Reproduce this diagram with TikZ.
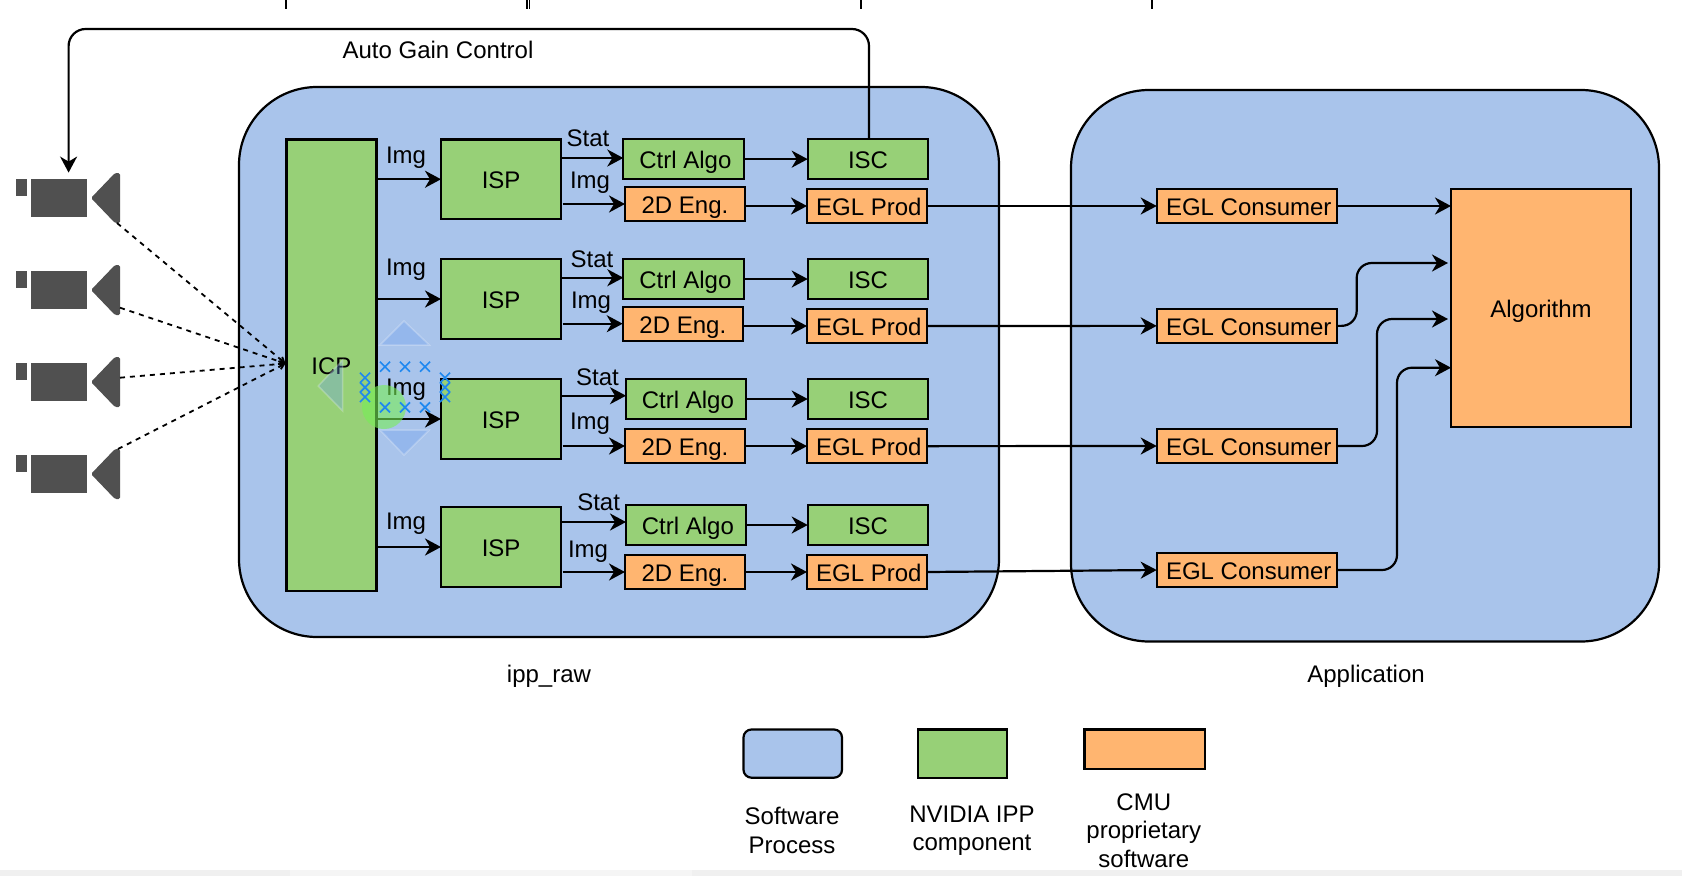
\documentclass[tikz,border=0pt]{standalone}
\usepackage{fontspec}
\setmainfont{Liberation Sans}
\usetikzlibrary{arrows.meta,calc}
\definecolor{procblue}{HTML}{A9C4EB}
\definecolor{ippgreen}{HTML}{97D077}
\definecolor{cmuorange}{HTML}{FFB570}
\definecolor{camgray}{HTML}{505050}
\definecolor{hoverblue}{HTML}{6B9EF0}
\definecolor{markblue}{HTML}{1E88F0}
\definecolor{hovergreen}{HTML}{77EE55}
\tikzset{
  base/.style={draw=black,line width=2.2pt,inner sep=0pt,outer sep=0pt,rectangle,
    font=\fontsize{24}{28}\selectfont,text height=22pt,text depth=3.6pt},
  greenbox/.style={base,fill=ippgreen},
  orangebox/.style={base,fill=cmuorange},
  procbox/.style={base,fill=procblue,rounded corners=78pt},
  legendproc/.style={base,fill=procblue,rounded corners=8pt},
  lbl/.style={font=\fontsize{24}{28}\selectfont,inner sep=0pt,text height=22pt,text depth=3.6pt},
  lbltwo/.style={font=\fontsize{24}{28.5}\selectfont,inner sep=0pt,align=center},
  conn/.style={line width=2.2pt,-{Stealth[length=16pt,width=17pt,inset=5pt]}},
  elbow/.style={conn,rounded corners=15pt},
  dashconn/.style={line width=1.8pt,dash pattern=on 5pt off 5pt,-{Straight Barb[length=5pt,width=6pt]}},
  hover/.style={fill=hoverblue,fill opacity=.33,draw=white,draw opacity=.25,line width=1.5pt},
  xmark/.style={draw=markblue,line width=1.7pt},
}
\newcommand{\bx}[7]{\node[#2,minimum width={#5pt-#3pt},minimum height={#6pt-#4pt}] (#1) at ({(#3+#5)/2},{(#4+#6)/2}) {#7};}
\newcommand{\nudge}{\hspace*{3.5pt}}
\begin{document}
\begin{tikzpicture}[x=1pt,y=-1pt]
\useasboundingbox (0,0) rectangle (1682,876);
% bottom strip
\fill[black!6] (0,870) rectangle (1682,876);
\fill[black!4] (290,870) rectangle (692,876);
% top ticks
\coordinate (t1a) at (286,0); \coordinate (t1b) at (286,9);
\coordinate (t2a) at (527,0); \coordinate (t2b) at (527,9);
\coordinate (t3a) at (529.5,0); \coordinate (t3b) at (529.5,9);
\coordinate (t4a) at (861,0); \coordinate (t4b) at (861,9);
\coordinate (t5a) at (1152,0); \coordinate (t5b) at (1152,9);
\draw[line width=1.2pt] (t1a)--(t1b) (t2a)--(t2b) (t3a)--(t3b) (t5a)--(t5b);
\draw[line width=2pt] (t4a)--(t4b);
% process containers
\bx{ipp}{procbox}{239}{87}{999}{637}{}
\bx{app}{procbox}{1071}{90}{1659}{641.5}{}
% cameras
\foreach \i/\d in {1/0,2/92,3/184,4/276}{
  \begin{scope}[yshift=-\d pt]
    \fill[camgray] (16,179) rectangle (26.7,195.7);
    \fill[camgray] (31,179) rectangle (87,217);
    \fill[camgray,rounded corners=1.5pt] (115,173) -- (120,173) -- (120,223) -- (115,223) -- (91,198) -- cycle;
  \end{scope}
}
\coordinate (cam1out) at (117,223);
\coordinate (cam2out) at (120,307.7);
\coordinate (cam3out) at (120,377.7);
\coordinate (cam4out) at (118,449);
\coordinate (icpin) at (285.5,363.5);
% ICP and ISPs
\bx{icp}{greenbox}{286.5}{139.5}{376.5}{591}{ICP}
\bx{isp1}{greenbox}{441}{139.5}{561.3}{219}{ISP}
\bx{isp2}{greenbox}{441}{259}{561.3}{339}{ISP}
\bx{isp3}{greenbox}{441}{379}{561.3}{459}{ISP}
\bx{isp4}{greenbox}{441}{506.7}{561.3}{587.3}{ISP}
% Ctrl Algo
\bx{ctrl1}{greenbox}{623.3}{139}{744}{179.3}{\nudge Ctrl Algo}
\bx{ctrl2}{greenbox}{623.3}{259}{744}{299}{\nudge Ctrl Algo}
\bx{ctrl3}{greenbox}{626}{379}{746.3}{419}{\nudge Ctrl Algo}
\bx{ctrl4}{greenbox}{626}{505}{746.3}{545}{\nudge Ctrl Algo}
% ISC
\bx{isc1}{greenbox}{807.7}{139}{928.3}{179.3}{ISC}
\bx{isc2}{greenbox}{807.7}{259}{928.3}{299}{ISC}
\bx{isc3}{greenbox}{807.7}{379}{928.3}{419}{ISC}
\bx{isc4}{greenbox}{807.7}{505}{928.3}{545}{ISC}
% 2D Eng.
\bx{eng1}{orangebox}{625}{187}{745}{221}{2D Eng.}
\bx{eng2}{orangebox}{622.7}{307}{743}{341}{2D Eng.}
\bx{eng3}{orangebox}{625}{429.3}{745}{463}{2D Eng.}
\bx{eng4}{orangebox}{625}{555}{745}{589}{2D Eng.}
% EGL Prod
\bx{prod1}{orangebox}{807}{189}{927.3}{223}{\nudge EGL Prod}
\bx{prod2}{orangebox}{807}{309}{927.3}{343}{\nudge EGL Prod}
\bx{prod3}{orangebox}{807}{429.3}{927.3}{463}{\nudge EGL Prod}
\bx{prod4}{orangebox}{807}{555}{927.3}{589}{\nudge EGL Prod}
% EGL Consumer
\bx{cons1}{orangebox}{1156.7}{189}{1337.3}{223}{\nudge EGL Consumer}
\bx{cons2}{orangebox}{1156.7}{308.7}{1337.3}{343}{\nudge EGL Consumer}
\bx{cons3}{orangebox}{1156.7}{428.7}{1337.3}{463.3}{\nudge EGL Consumer}
\bx{cons4}{orangebox}{1156.7}{553}{1337.3}{587}{\nudge EGL Consumer}
% Algorithm
\bx{alg}{orangebox}{1451}{189}{1631}{427}{Algorithm}
% dashed links
\foreach \i in {1,2,3,4}{ \draw[dashconn] (cam\i out) -- (icpin); }
% connectors in each row
\coordinate (stat1) at (561.3,158);
\coordinate (stat2) at (561.3,277.7);
\coordinate (stat3) at (561.3,395.7);
\coordinate (stat4) at (561.3,522);
\coordinate (imgo1) at (562.7,204);
\coordinate (imgo2) at (562.7,323.7);
\coordinate (imgo3) at (562.7,446);
\coordinate (imgo4) at (562.7,572);
\foreach \i in {1,2,3,4}{
  \draw[conn] (icp.east |- isp\i.west) -- (isp\i.west);
  \draw[conn] (stat\i) -- (stat\i -| ctrl\i.west);
  \draw[conn] (imgo\i) -- (imgo\i -| eng\i.west);
  \draw[conn] (ctrl\i.east) -- (ctrl\i.east -| isc\i.west);
  \draw[conn] (eng\i.east |- prod\i.west) -- (prod\i.west);
  \draw[conn] (prod\i.east) -- (cons\i.west);
}
% to the algorithm
\coordinate (turn2) at (1356.7,263);
\coordinate (turn3) at (1377,319);
\coordinate (turn4) at (1397,367.7);
\coordinate (algin2) at (1448,263);
\coordinate (algin3) at (1448,319);
\coordinate (algin4) at (1451,367.7);
\draw[conn] (cons1.east) -- (cons1.east -| alg.west);
\draw[elbow] (cons2.east) -| (turn2) -- (algin2);
\draw[elbow] (cons3.east) -| (turn3) -- (algin3);
\draw[elbow] (cons4.east) -| (turn4) -- (algin4);
% auto gain control
\coordinate (gaintop) at (68.6,29);
\coordinate (camtop) at (68.6,172.6);
\draw[conn,rounded corners=17pt] ([xshift=1pt]isc1.north) |- (gaintop) -- (camtop);
% labels
\node[lbl] (lagc) at (438,49) {Auto Gain Control};
\node[lbl] (limg1) at (406,154) {Img};
\node[lbl] (limg2) at (406,266.5) {Img};
\node[lbl] (limg4) at (406,520) {Img};
\node[lbl] (lst1) at (588,137) {Stat};
\node[lbl] (lst2) at (592,258) {Stat};
\node[lbl] (lst3) at (597.5,376) {Stat};
\node[lbl] (lst4) at (598.6,501) {Stat};
\node[lbl] (lim1) at (590,179) {Img};
\node[lbl] (lim2) at (591,299) {Img};
\node[lbl] (lim3) at (590,420) {Img};
\node[lbl] (lim4) at (588,548) {Img};
\node[lbl] (lipp) at (549,673.6) {ipp\_raw};
\node[lbl] (lapp) at (1366,673.6) {Application};
% legend
\bx{legproc}{legendproc}{743.5}{729.5}{842}{777.7}{}
\bx{leggreen}{greenbox}{918}{729.5}{1007}{777.7}{}
\bx{legorange}{orangebox}{1084.5}{729.5}{1204.7}{769}{}
\node[lbltwo] (tproc) at (792,830.5) {Software\\Process};
\node[lbltwo] (tgreen) at (972,830.5) {NVIDIA IPP\\component};
\node[lbltwo] (torange) at (1143.8,830.5) {CMU\\proprietary\\software};
% hover overlay
\node[lbl] (limg3) at (406,386) {Img};
\fill[hovergreen,opacity=.6] (384,407) circle (22);
\path[hover] (404,321) -- (429.3,345) -- (380,345) -- cycle;
\path[hover] (380,430) -- (429.3,430) -- (404,455) -- cycle;
\path[hover] (342.7,360) -- (342.7,411) -- (318.3,386) -- cycle;
\foreach \mx/\my in {385/366.7,405/366.7,425/366.7,385/407.3,405/407.3,425/407.3,
    365/377.7,365/387.3,365/397,445/377.7,445/387.3,445/397}{
  \draw[xmark] (\mx-5,\my-5) -- (\mx+5,\my+5) (\mx-5,\my+5) -- (\mx+5,\my-5);
}
\end{tikzpicture}
\end{document}
